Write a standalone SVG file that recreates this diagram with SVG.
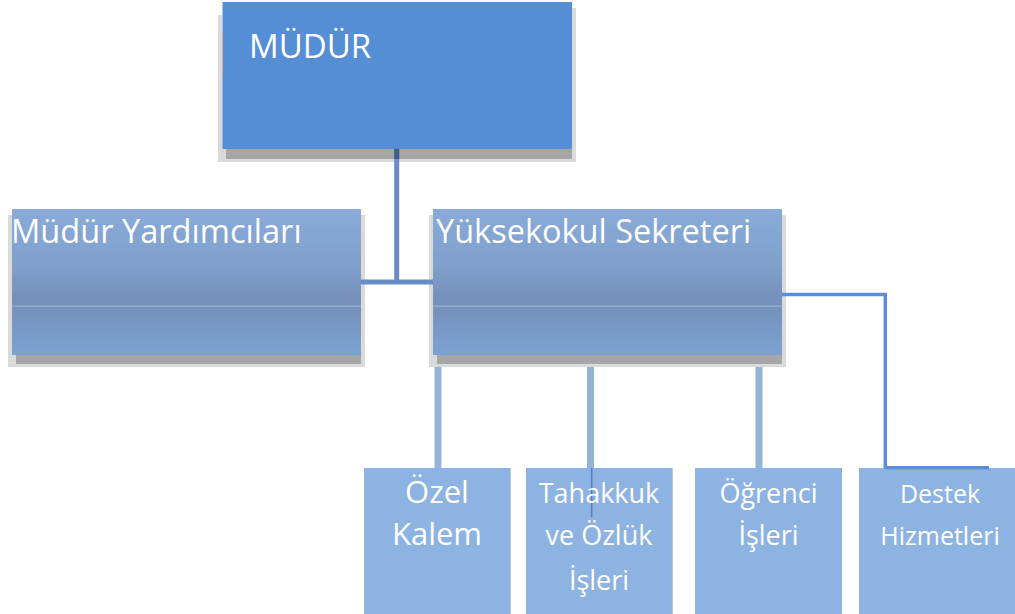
<svg xmlns="http://www.w3.org/2000/svg" width="1015" height="614" viewBox="0 0 1015 614">
<defs>
<linearGradient id="gloss" x1="0" y1="0" x2="0" y2="1">
<stop offset="0" stop-color="#89abd9"/>
<stop offset="0.4" stop-color="#809fcb"/>
<stop offset="0.62" stop-color="#7590ba"/>
<stop offset="0.7" stop-color="#7692bd"/>
<stop offset="1" stop-color="#7ca2d3"/>
</linearGradient>
<style>
.txt{font-family:"Open Sans","DejaVu Sans",sans-serif;fill:#ffffff;}
.sh1{fill:#dadada;}
.sh2{fill:#a6a6a6;}
.hl{fill:#93abcf;}
.sub{fill:#8db3e2;}
.lc{fill:none;stroke:#95b3d7;stroke-width:7;}
.ln{fill:none;stroke:#6a8cc6;stroke-width:5;}
.lb{fill:none;stroke:#5b8ed8;stroke-width:3.5;}
</style>
</defs>

<g id="node-mudur">
<rect class="sh1" x="218" y="15" width="358" height="147"/>
<rect class="sh1" x="572" y="8" width="4" height="10"/>
<rect class="sh2" x="226" y="149" width="346" height="10"/>
<rect x="222.5" y="2" width="349.5" height="147" fill="#558ed5"/>
<line x1="222.5" y1="2" x2="222.5" y2="33" stroke="#b3b9ea" stroke-width="1"/>
<line x1="222.5" y1="33" x2="222.5" y2="75" stroke="#e4a3a3" stroke-width="1"/>
<text class="txt" x="249" y="58" font-size="33">MÜDÜR</text>
</g>

<g id="node-yardimcilar">
<rect class="sh1" x="8" y="215" width="357" height="152"/>
<rect class="sh2" x="16" y="355" width="345" height="9"/>
<rect x="12" y="209" width="349" height="146" fill="url(#gloss)"/>
<rect class="hl" x="12" y="305.5" width="349" height="1.5"/>
<text class="txt" x="11" y="243" font-size="32.6">Müdür Yardımcıları</text>
</g>

<g id="node-sekreter">
<rect class="sh1" x="429" y="215" width="357" height="152"/>
<rect class="sh2" x="437" y="355" width="345" height="9"/>
<rect x="433" y="209" width="349" height="146" fill="url(#gloss)"/>
<rect class="hl" x="433" y="305.5" width="349" height="1.5"/>
<text class="txt" x="436" y="243" font-size="32.5">Yüksekokul Sekreteri</text>
</g>

<g id="connectors">
<path class="ln" d="M396.7 149 V282 M361 282 H433"/>
<line x1="396.7" y1="149" x2="396.7" y2="159" stroke="#3f5d8c" stroke-width="5"/>
<path class="lc" d="M438 367 V468 M590.5 367 V468 M759 367 V468"/>
<path class="lb" d="M782 294.5 H885.3 V467.7 H989"/>
</g>

<g id="node-ozel-kalem">
<rect class="sub" x="364" y="468" width="146.7" height="146"/>
<text class="txt" x="437" y="503" font-size="31" text-anchor="middle">Özel</text>
<text class="txt" x="437" y="545" font-size="31" text-anchor="middle">Kalem</text>
</g>

<g id="node-tahakkuk">
<rect class="sub" x="526" y="468" width="146.7" height="146"/>
<line x1="591.7" y1="468" x2="591.7" y2="517" stroke="#4a7fc8" stroke-width="1.5"/>
<text class="txt" x="599" y="503" font-size="27" text-anchor="middle">Tahakkuk</text>
<text class="txt" x="599" y="545" font-size="27" text-anchor="middle">ve Özlük</text>
<text class="txt" x="599" y="590" font-size="27" text-anchor="middle">İşleri</text>
</g>

<g id="node-ogrenci">
<rect class="sub" x="695" y="468" width="147" height="146"/>
<text class="txt" x="768.5" y="503" font-size="27" text-anchor="middle">Öğrenci</text>
<text class="txt" x="768.5" y="545" font-size="27" text-anchor="middle">İşleri</text>
</g>

<g id="node-destek">
<rect class="sub" x="859" y="468" width="156" height="146"/>
<path class="lb" d="M885.3 467.7 H989"/>
<text class="txt" x="940" y="503" font-size="25" text-anchor="middle">Destek</text>
<text class="txt" x="940" y="545" font-size="25" text-anchor="middle">Hizmetleri</text>
</g>
</svg>
